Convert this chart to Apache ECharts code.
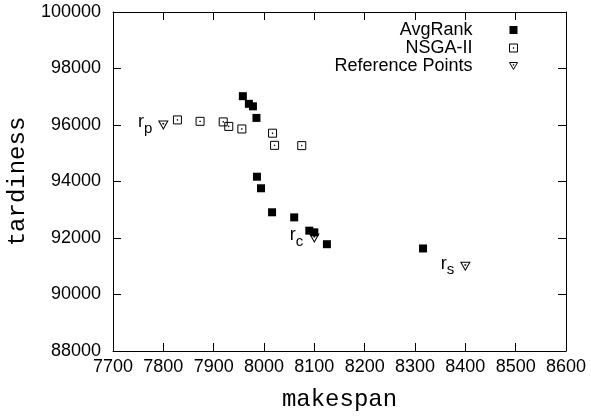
<!DOCTYPE html>
<html>
<head>
<meta charset="utf-8">
<script src="https://cdn.jsdelivr.net/npm/echarts@6/dist/echarts.min.js"></script>
<style>
  html, body { margin: 0; padding: 0; background: #fff; }
  #chart { width: 591px; height: 416px; }
</style>
</head>
<body>
<div id="chart"></div>
<script>
// values
const avgRankX = [7958, 7970, 7978, 7985, 7986, 7994, 8016, 8060, 8090, 8100, 8125, 8316];
const avgRankY = [97020, 96750, 96660, 96250, 94170, 93760, 92910, 92730, 92260, 92200, 91780, 91630];

const nsgaX = [7828, 7873, 7919, 7930, 7956, 8017, 8021, 8075];
const nsgaY = [96180, 96130, 96110, 95950, 95860, 95710, 95280, 95270];

const refX = [7800, 8100, 8400];
const refY = [96000, 92000, 91000];
const refNames = ['p', 'c', 's'];

const xTicks = { min: 7700, max: 8600, step: 100 };
const yTicks = { min: 88000, max: 100000, step: 2000 };

const SANS = 'Liberation Sans, Arial, sans-serif';
const MONO = 'Liberation Mono, Courier New, monospace';

const zip = (xs, ys) => xs.map((x, i) => [x, ys[i]]);

const hollowSquare = 'path://M0,0L10,0L10,10L0,10Z M4.6,4.6L5.4,4.6L5.4,5.4L4.6,5.4Z';
const hollowTriangle = 'path://M0,0L10,0L5,8.66Z M4.6,2.6L5.4,2.6L5.4,3.4L4.6,3.4Z';

const filledStyle = { color: '#000', opacity: 1 };
const hollowStyle = { color: 'rgba(0,0,0,0)', borderColor: '#000', borderWidth: 1, opacity: 1 };

const chart = echarts.init(document.getElementById('chart'));

const frameLine = { show: true, onZero: false, lineStyle: { color: '#000', width: 1 } };
const innerTick = { show: true, inside: true, length: 8, lineStyle: { color: '#000', width: 1 } };
const plain = v => String(v);

const option = {
    animation: false,
    backgroundColor: '#fff',
    grid: { left: 113, right: 25, top: 12, bottom: 65, containLabel: false, outerBoundsMode: 'none' },
    legend: {
        orient: 'vertical',
        align: 'right',
        right: 73,
        top: 21,
        padding: 0,
        itemGap: 0,
        itemWidth: 8,
        itemHeight: 8,
        formatter: '{t|{name}}',
        textStyle: {
            rich: {
                t: { fontFamily: SANS, fontSize: 18, color: '#000', lineHeight: 19, padding: [0, 32, 0, 0] },
            },
        },
        data: [
            { name: 'AvgRank', icon: 'rect', itemStyle: filledStyle },
            { name: 'NSGA-II', icon: hollowSquare, itemStyle: hollowStyle },
            { name: 'Reference Points', icon: hollowTriangle, itemStyle: hollowStyle },
        ],
    },
    xAxis: [
        {
            type: 'value',
            position: 'bottom',
            min: xTicks.min,
            max: xTicks.max,
            interval: xTicks.step,
            name: 'makespan',
            nameLocation: 'middle',
            nameGap: 37,
            nameTextStyle: { fontFamily: MONO, fontSize: 24, color: '#000' },
            axisLine: frameLine,
            axisTick: innerTick,
            axisLabel: { fontFamily: SANS, fontSize: 18, color: '#000', margin: 7, formatter: plain },
            splitLine: { show: false },
        },
        {
            type: 'value',
            position: 'top',
            min: xTicks.min,
            max: xTicks.max,
            interval: xTicks.step,
            axisLine: frameLine,
            axisTick: innerTick,
            axisLabel: { show: false },
            splitLine: { show: false },
        },
    ],
    yAxis: [
        {
            type: 'value',
            position: 'left',
            min: yTicks.min,
            max: yTicks.max,
            interval: yTicks.step,
            name: 'tardiness',
            nameLocation: 'middle',
            nameGap: 80,
            nameTextStyle: { fontFamily: MONO, fontSize: 24, color: '#000' },
            axisLine: frameLine,
            axisTick: innerTick,
            axisLabel: { fontFamily: SANS, fontSize: 18, color: '#000', margin: 12, formatter: plain },
            splitLine: { show: false },
        },
        {
            type: 'value',
            position: 'right',
            min: yTicks.min,
            max: yTicks.max,
            interval: yTicks.step,
            axisLine: frameLine,
            axisTick: innerTick,
            axisLabel: { show: false },
            splitLine: { show: false },
        },
    ],
    series: [
        {
            name: 'AvgRank',
            type: 'scatter',
            symbol: 'rect',
            symbolSize: 8,
            itemStyle: filledStyle,
            emphasis: { disabled: true },
            data: zip(avgRankX, avgRankY),
        },
        {
            name: 'NSGA-II',
            type: 'scatter',
            symbol: hollowSquare,
            symbolSize: 8,
            itemStyle: hollowStyle,
            emphasis: { disabled: true },
            data: zip(nsgaX, nsgaY),
        },
        {
            name: 'Reference Points',
            type: 'scatter',
            symbol: hollowTriangle,
            symbolSize: [9, 8],
            itemStyle: hollowStyle,
            emphasis: { disabled: true },
            label: {
                show: true,
                position: 'left',
                distance: 6,
                offset: [0, 0],
                formatter: p => '{r|r}{s|' + p.name + '}',
                rich: {
                    r: { fontFamily: SANS, fontSize: 18, color: '#000', height: 18, padding: [0, 0, 5, 0] },
                    s: { fontFamily: SANS, fontSize: 15, color: '#000', height: 15, padding: [8, 0, 0, 0] },
                },
            },
            data: refX.map((x, i) => ({ name: refNames[i], value: [x, refY[i]] })),
        },
    ],
};

chart.setOption(option);
</script>
</body>
</html>
